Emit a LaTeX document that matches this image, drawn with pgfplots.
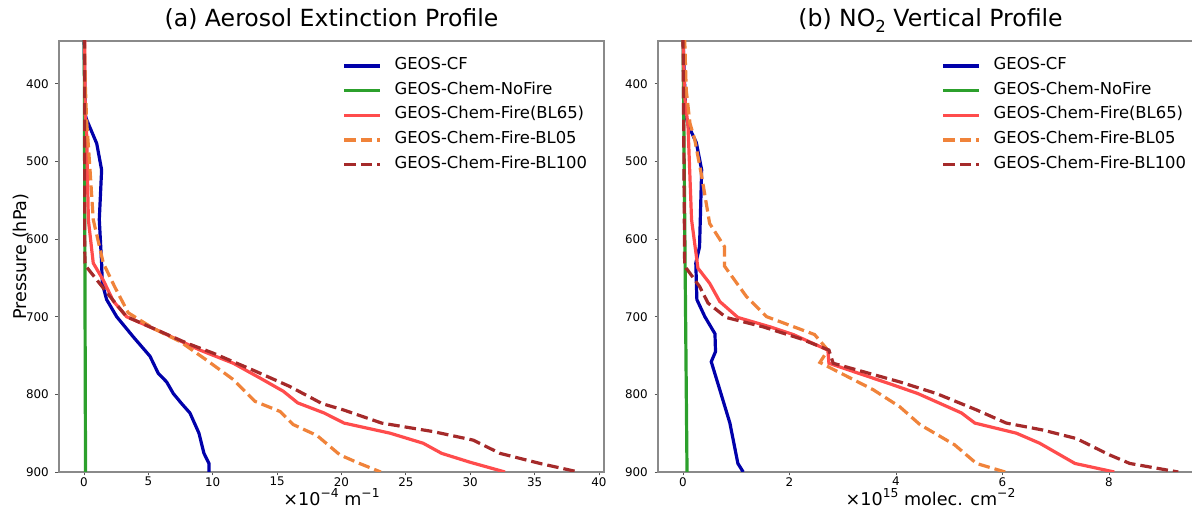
\documentclass[border=0pt]{standalone}
\usepackage{fontspec}
\setmainfont{DejaVu Sans}
\usepackage{pgfplots}
\pgfplotsset{compat=1.18}

\definecolor{cfblue}{HTML}{0000AA}
\definecolor{nofire}{HTML}{2CA02C}
\definecolor{bl65}{HTML}{FF4C4C}
\definecolor{bl05}{HTML}{F0833A}
\definecolor{bl100}{HTML}{A52A2A}
\definecolor{spine}{HTML}{8A8A8A}
\definecolor{tickc}{HTML}{555555}

\newcommand{\fs}[1]{\fontsize{#1}{#1}\selectfont}
\newcommand{\sups}[1]{\raisebox{0.42em}{\fs{12.3}#1}}
\newcommand{\subs}[1]{\raisebox{-0.22em}{\fs{16.5}#1}}

\pgfplotsset{
  profile/.style={
    scale only axis, width=545pt, height=431pt, anchor=south west,
    y dir=reverse, ymin=345, ymax=900, ytick={400,500,...,900},
    enlargelimits=false, clip=true,
    axis line style={draw=spine, line width=1.1pt},
    tick style={draw=tickc, line width=0.9pt},
    major tick length=3.5pt, tick align=outside, tick pos=left,
    /pgf/number format/assume math mode=true,
    ticklabel style={font=\fs{11.9}, inner sep=0pt},
    xticklabel style={anchor=north, yshift=-1.5pt},
    yticklabel style={anchor=east, xshift=-6.5pt},
    title style={font=\fs{23.6}, at={(axis description cs:0.5,1.0186)}, anchor=base},
    xlabel style={font=\fs{17.6}, at={(axis description cs:0.5,-0.0766)}, anchor=base},
    ylabel style={font=\fs{17.6}, at={(axis description cs:-0.0703,0.5)}, anchor=center},
    legend cell align=left,
    legend image code/.code={\draw[#1] (0pt,0.36em) -- (36pt,0.36em);},
    legend style={draw=none, fill=none, font=\fs{16.4}, anchor=north west,
      at={(axis description cs:0.5205,0.962)}, inner sep=0pt,
      row sep=8.7pt, column sep=12.6pt,
      nodes={inner sep=0pt, text height=12pt, text depth=4pt, anchor=base west}},
  },
  cf/.style={cfblue, line width=3.2pt},
  nf/.style={nofire, line width=3.2pt},
  f65/.style={bl65, line width=3.2pt},
  f05/.style={bl05, line width=3.2pt, dash pattern=on 11.5pt off 5pt},
  f100/.style={bl100, line width=3.2pt, dash pattern=on 11.5pt off 5pt},
}

\begin{document}
\begin{tikzpicture}[x=1pt,y=1pt]
\path[use as bounding box] (0,0) rectangle (1192,510);

% (a) aerosol extinction
\begin{axis}[profile, at={(59pt,38pt)},
  xmin=-1.94, xmax=40.39, xtick={0,5,...,40},
  title={(a) Aerosol Extinction Profile},
  xlabel={×10\sups{−4} m\sups{−1}},
  ylabel={Pressure (hPa)}]
\addplot[cf] coordinates {(0.0,340) (0.1,440) (0.2,446) (0.99,477) (1.37,511) (1.19,575) (1.37,631)
  (1.42,657) (1.76,678) (2.54,700) (3.83,726) (5.13,751) (5.77,773) (6.42,784) (6.94,799)
  (7.59,812) (8.23,824) (8.93,850) (9.32,876) (9.71,889) (9.71,900)};
\addplot[nf] coordinates {(0.02,340) (0.12,900)};
\addplot[f65] coordinates {(0.05,340) (0.1,440) (0.2,459) (0.34,575) (0.72,631) (1.5,653) (2.28,680)
  (3.31,700) (5.9,719) (9.01,743) (11.6,760) (13.67,779) (15.48,796) (16.6,811) (18.65,824)
  (20.2,837) (23.77,850) (26.35,863) (27.78,876) (30.0,887.5) (32.7,900)};
\addplot[f05] coordinates {(0.02,340) (0.1,400) (0.2,446) (0.47,511) (0.72,575) (1.5,631) (2.4,662)
  (3.44,695) (5.38,715) (7.46,732) (9.53,756) (11.6,781) (13.28,809) (15.22,822) (16.26,839)
  (18.1,853) (19.88,878) (21.4,889) (23.05,900)};
\addplot[f100] coordinates {(0.05,340) (0.05,600) (0.08,631) (0.2,636) (2.02,674) (3.31,700) (5.38,715)
  (7.98,734) (10.04,747) (13.15,769) (16.0,790) (18.5,812) (20.14,820) (23.12,837) (27.13,848)
  (30.24,859) (32.31,876) (35.42,889) (38.4,900)};
\legend{GEOS-CF, GEOS-Chem-NoFire, GEOS-Chem-Fire(BL65), GEOS-Chem-Fire-BL05, GEOS-Chem-Fire-BL100}
\end{axis}

% (b) NO2 profile
\begin{axis}[profile, at={(658pt,38pt)},
  xmin=-0.47, xmax=9.765, xtick={0,2,...,8},
  yticklabel={},
  title={(b) NO\subs{2} Vertical Profile},
  xlabel={×10\sups{15} molec. cm\sups{−2}}]
\addplot[cf] coordinates {(0.0,340) (0.05,440) (0.094,453) (0.25,476) (0.35,511) (0.31,610) (0.24,631)
  (0.26,678) (0.41,700) (0.6,722) (0.61,745) (0.53,758) (0.69,794) (0.88,837) (1.03,889) (1.13,900)};
\addplot[nf] coordinates {(0.0,340) (0.075,900)};
\addplot[f65] coordinates {(0.0,340) (0.03,416) (0.094,455) (0.16,575) (0.28,637.5) (0.5,657) (0.69,680.5)
  (1.03,701) (1.63,713) (2.07,723) (2.72,743) (2.74,760) (3.95,788) (4.41,799) (4.82,811.5)
  (5.23,824) (5.48,837) (6.26,850) (6.7,863) (7.36,889) (8.1,900)};
\addplot[f05] coordinates {(0.03,340) (0.06,408) (0.13,451) (0.22,472) (0.35,519) (0.5,580) (0.78,610)
  (0.78,635) (1.19,674) (1.57,700) (2.0,711) (2.47,723) (2.72,743) (2.57,759) (3.57,794)
  (4.07,816) (4.45,839) (5.1,865) (5.51,889) (6.05,900)};
\addplot[f100] coordinates {(0.0,340) (0.03,631) (0.06,637.5) (0.31,661) (0.47,682.5) (0.81,701) (1.5,713)
  (2.19,728) (2.74,743) (2.82,760) (4.07,784) (4.76,799) (5.51,820) (6.07,837) (6.76,846)
  (7.39,857) (8.01,878) (8.39,889) (9.3,900)};
\legend{GEOS-CF, GEOS-Chem-NoFire, GEOS-Chem-Fire(BL65), GEOS-Chem-Fire-BL05, GEOS-Chem-Fire-BL100}
\end{axis}
\end{tikzpicture}
\end{document}
